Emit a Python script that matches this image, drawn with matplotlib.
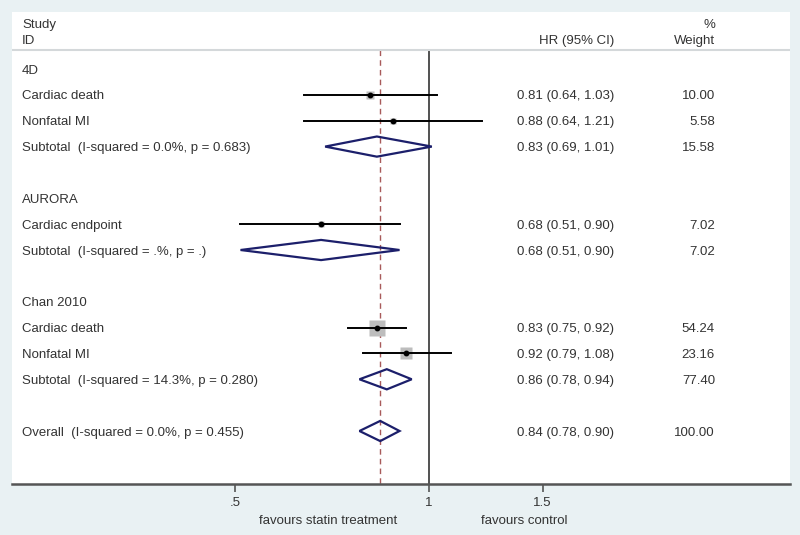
import numpy as np
import matplotlib.pyplot as plt
from matplotlib.transforms import blended_transform_factory
from matplotlib.ticker import FixedLocator, FixedFormatter, NullLocator

plt.rcParams['font.family'] = ['Liberation Sans', 'DejaVu Sans']

# rows of the forest plot, top to bottom
row = [0, 1, 2, 3, 5, 6, 7, 9, 10, 11, 12, 14]
label = ['4D', 'Cardiac death', 'Nonfatal MI', 'Subtotal  (I-squared = 0.0%, p = 0.683)',
         'AURORA', 'Cardiac endpoint', 'Subtotal  (I-squared = .%, p = .)',
         'Chan 2010', 'Cardiac death', 'Nonfatal MI', 'Subtotal  (I-squared = 14.3%, p = 0.280)',
         'Overall  (I-squared = 0.0%, p = 0.455)']
kind = ['head', 'study', 'study', 'sub', 'head', 'study', 'sub',
        'head', 'study', 'study', 'sub', 'sub']
hr = [None, 0.81, 0.88, 0.83, None, 0.68, 0.68, None, 0.83, 0.92, 0.86, 0.84]
lo = [None, 0.64, 0.64, 0.69, None, 0.51, 0.51, None, 0.75, 0.79, 0.78, 0.78]
hi = [None, 1.03, 1.21, 1.01, None, 0.90, 0.90, None, 0.92, 1.08, 0.94, 0.90]
weight = [None, 10.00, 5.58, 15.58, None, 7.02, 7.02, None, 54.24, 23.16, 77.40, 100.00]
overall = 0.84

xticks = [0.5, 1, 1.5]
xticklabels = ['.5', '1', '1.5']

txt = '#333333'
bg = '#e9f1f3'
fs = 9.5

fig = plt.figure(figsize=(8, 5.35), dpi=100, facecolor=bg)
ax = fig.add_axes([12/800, 51/535, 778/800, 472/535])
ax.set_facecolor('white')
ax.set_xscale('log')
ax.set_xlim(0.2255, 3.63)
ax.set_ylim(16.05, -2.205)

for s in ['top', 'left', 'right']:
    ax.spines[s].set_visible(False)
ax.spines['bottom'].set_color('#555555')
ax.spines['bottom'].set_linewidth(1.8)
ax.xaxis.set_major_locator(FixedLocator(xticks))
ax.xaxis.set_major_formatter(FixedFormatter(xticklabels))
ax.xaxis.set_minor_locator(NullLocator())
ax.tick_params(axis='x', length=6, width=1.2, color='#555555', pad=3.5,
               labelsize=fs, labelcolor=txt)
ax.set_yticks([])

tr = blended_transform_factory(ax.transAxes, ax.transData)
trx = blended_transform_factory(ax.transData, ax.transAxes)
dy = 0.06  # nudge text down a touch

# header
ax.text(0.0129, -1.78 + dy, 'Study', transform=tr, fontsize=fs, color=txt, va='center')
ax.text(0.0129, -1.16 + dy, 'ID', transform=tr, fontsize=fs, color=txt, va='center')
ax.text(0.7738, -1.16 + dy, 'HR (95% CI)', transform=tr, fontsize=fs, color=txt, va='center', ha='right')
ax.text(0.9036, -1.78 + dy, '%', transform=tr, fontsize=fs, color=txt, va='center', ha='right')
ax.text(0.9036, -1.16 + dy, 'Weight', transform=tr, fontsize=fs, color=txt, va='center', ha='right')
ax.axhline(-0.735, color='#d4d8da', lw=1.5)

# reference lines
ax.plot([1, 1], [-0.735, 16.05], color='#222222', lw=1.1, zorder=1)
ax.plot([overall, overall], [-0.735, 16.05], color='#a85a5a', lw=1.0,
        dashes=(4, 3), zorder=1)

for r, lab, k, e, l, h, w in zip(row, label, kind, hr, lo, hi, weight):
    ax.text(0.0129, r + dy, lab, transform=tr, fontsize=fs, color=txt, va='center')
    if k == 'head':
        continue
    ax.text(0.7738, r + dy, '%.2f (%.2f, %.2f)' % (e, l, h), transform=tr,
            fontsize=fs, color=txt, va='center', ha='right')
    ax.text(0.9036, r + dy, '%.2f' % w, transform=tr, fontsize=fs, color=txt,
            va='center', ha='right')
    if k == 'study':
        side = 2.3 * np.sqrt(w) * 0.72
        ax.plot(e, r, marker='s', ms=side, color='#bdbdbd', mec='none', zorder=2)
        ax.plot([l, h], [r, r], color='black', lw=1.4, zorder=3)
        ax.plot(e, r, marker='o', ms=3.2, color='black', zorder=4)
    else:
        ax.fill([l, e, h, e, l], [r, r - 0.39, r, r + 0.39, r], facecolor='none',
                edgecolor='#1c1f6b', lw=1.6, zorder=3)

ax.text(0.697, -0.078, 'favours statin treatment', transform=trx, fontsize=fs,
        color=txt, ha='center', va='center')
ax.text(1.404, -0.078, 'favours control', transform=trx, fontsize=fs,
        color=txt, ha='center', va='center')

fig.savefig('out.png', dpi=100, facecolor=bg)
